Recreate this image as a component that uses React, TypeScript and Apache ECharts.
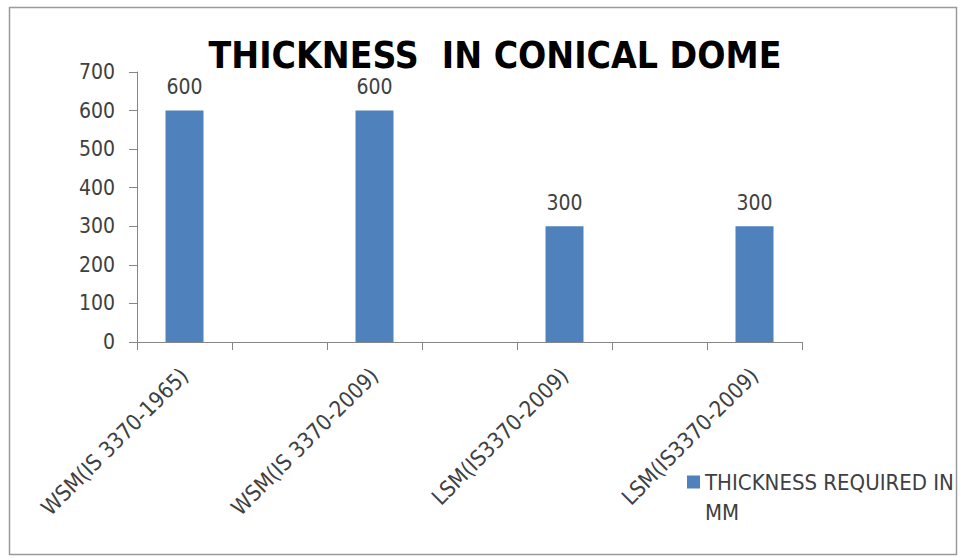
import React, { useEffect, useRef } from "react";
import * as echarts from "echarts";

const categories = [
  "WSM(IS 3370-1965)",
  "",
  "WSM(IS 3370-2009)",
  "",
  "LSM(IS3370-2009)",
  "",
  "LSM(IS3370-2009)",
];
const thicknessValues: (number | null)[] = [600, null, 600, null, 300, null, 300];
const seriesName = "THICKNESS REQUIRED IN MM";
const legendLines = ["THICKNESS REQUIRED IN", "MM"];
const titleText = "THICKNESS  IN CONICAL DOME";
const yMin = 0;
const yMax = 700;
const yInterval = 100;

const FONT = "'Liberation Sans Narrow', 'DejaVu Sans Condensed', 'Open Sans', sans-serif";

export default function App() {
  const ref = useRef<HTMLDivElement>(null);
  useEffect(() => {
    if (!ref.current) return;
    const chart = echarts.init(ref.current, null, { renderer: "svg" });
    chart.setOption({
      animation: false,
      backgroundColor: "#ffffff",
      title: {
        text: titleText,
        left: 490,
        top: 30,
        textAlign: "center",
        textStyle: { fontFamily: FONT, fontSize: 37, fontWeight: "bold", color: "#000000", lineHeight: 40 },
      },
      graphic: [
        {
          type: "rect",
          shape: { x: 9.5, y: 7.5, width: 947, height: 547 },
          style: { fill: "none", stroke: "#9a9a9a", lineWidth: 1.5 },
          z: -1,
        },
      ],
      legend: {
        left: 682,
        top: 432,
        itemWidth: 13,
        itemHeight: 13,
        itemGap: 6,
        formatter: () => "\n" + legendLines.join("\n"),
        textStyle: {
          fontFamily: FONT,
          fontSize: 22,
          color: "#404040",
          lineHeight: 30,
        },
        data: [{ name: seriesName, icon: "rect" }],
      },
      grid: { left: 137, right: 158, top: 72, bottom: 216, containLabel: false },
      xAxis: {
        type: "category",
        data: categories,
        boundaryGap: true,
        axisLine: { lineStyle: { color: "#868686", width: 1 } },
        axisTick: { show: true, interval: 0, length: 8, lineStyle: { color: "#868686" } },
        axisLabel: {
          interval: 0,
          rotate: 45,
          margin: 30,
          fontFamily: FONT,
          fontSize: 22,
          color: "#404040",
        },
        splitLine: { show: false },
      },
      yAxis: {
        type: "value",
        min: yMin,
        max: yMax,
        interval: yInterval,
        axisLine: { show: true, lineStyle: { color: "#868686", width: 1 } },
        axisTick: { show: true, length: 8, lineStyle: { color: "#868686" } },
        axisLabel: { fontFamily: FONT, fontSize: 21, color: "#404040", margin: 22 },
        splitLine: { show: false },
      },
      series: [
        {
          name: seriesName,
          type: "bar",
          data: thicknessValues,
          barWidth: "40%",
          itemStyle: { color: "#4F81BD" },
          label: {
            show: true,
            position: "top",
            distance: 13,
            fontFamily: FONT,
            fontSize: 21,
            color: "#404040",
          },
        },
      ],
    });
    return () => chart.dispose();
  }, []);
  return <div ref={ref} style={{ width: 960, height: 558, position: "absolute", left: 0, top: 0 }} />;
}
